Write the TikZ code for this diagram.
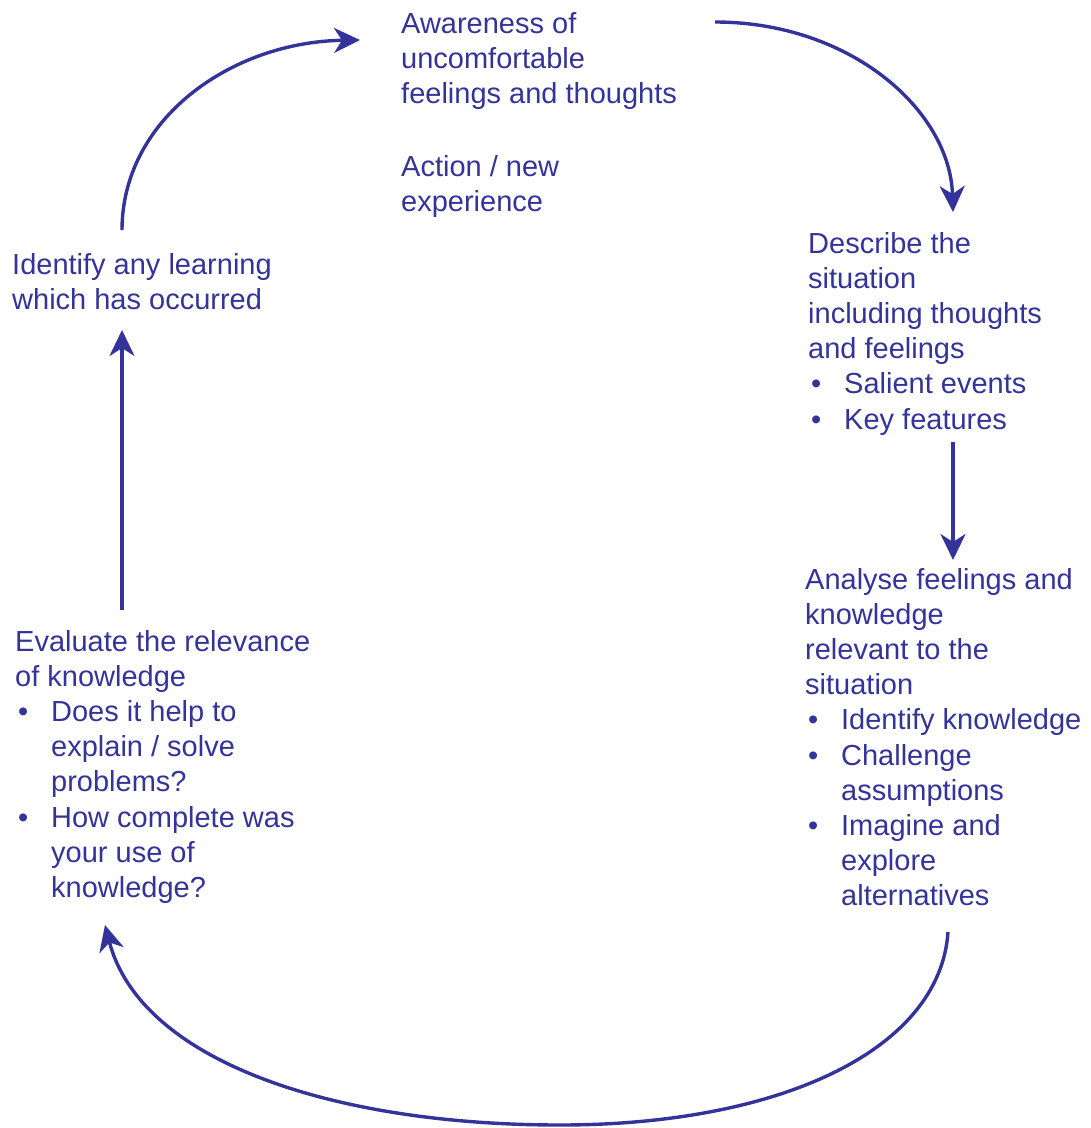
\documentclass[tikz,border=0pt]{standalone}
\usepackage{fontspec}
\setmainfont{Liberation Sans}
\usetikzlibrary{arrows.meta}
\definecolor{cycleblue}{RGB}{51,51,153}
% bullet line and its continuation lines
\newcommand\bitem[1]{\makebox[36pt][l]{\hspace{3pt}\textbullet}#1}
\newcommand\bcont[1]{\hspace*{36pt}#1}
\begin{document}
\begin{tikzpicture}[x=1pt,y=-1pt,
  stage/.style={anchor=base west, align=left, inner sep=0pt, text=cycleblue,
    font=\fontsize{29}{35.2}\selectfont},
  flow/.style={draw=cycleblue, line width=3.4pt,
    -{Stealth[length=26pt,width=25pt,inset=8pt]}}]
\useasboundingbox (0,0) rectangle (1091,1128);

% stages of the cycle (placed by the baseline of their last line)
\node[stage] (aware) at (401,103.4) {Awareness of\\uncomfortable\\feelings and thoughts};
\node[stage] (action) at (401,211.2) {Action / new\\experience};
\node[stage] (describe) at (808,429) {Describe the\\situation\\including thoughts\\and feelings\\
  \bitem{Salient events}\\\bitem{Key features}};
\node[stage] (analyse) at (805,905.8) {Analyse feelings and\\knowledge\\relevant to the\\situation\\
  \bitem{Identify knowledge}\\\bitem{Challenge}\\\bcont{assumptions}\\
  \bitem{Imagine and}\\\bcont{explore}\\\bcont{alternatives}};
\node[stage] (evaluate) at (15,897.4) {Evaluate the relevance\\of knowledge\\
  \bitem{Does it help to}\\\bcont{explain / solve}\\\bcont{problems?}\\
  \bitem{How complete was}\\\bcont{your use of}\\\bcont{knowledge?}};
\node[stage] (identify) at (12,309.2) {Identify any learning\\which has occurred};

% connector ends
\coordinate (identifyTop) at (122,230);
\coordinate (awareIn) at (360,40);
\coordinate (awareOut) at (715,22);
\coordinate (describeIn) at (953,212);
\coordinate (describeOut) at (953,442);
\coordinate (analyseIn) at (953,560);
\coordinate (analyseOut) at (948,932);
\coordinate (evaluateIn) at (105,925);
\coordinate (evaluateOut) at (122,610);
\coordinate (identifyIn) at (122,330);

% arrows around the cycle
\draw[flow] (identifyTop) .. controls (122,120) and (230,42) .. (awareIn);
\draw[flow] (awareOut) .. controls (850,22) and (950,110) .. (describeIn);
\draw[flow] (describeOut) -- (analyseIn);
\draw[flow] (analyseOut) .. controls (940,1050) and (780,1125) .. (560,1125)
  .. controls (330,1125) and (140,1060) .. (evaluateIn);
\draw[flow] (evaluateOut) -- (identifyIn);
\end{tikzpicture}
\end{document}
